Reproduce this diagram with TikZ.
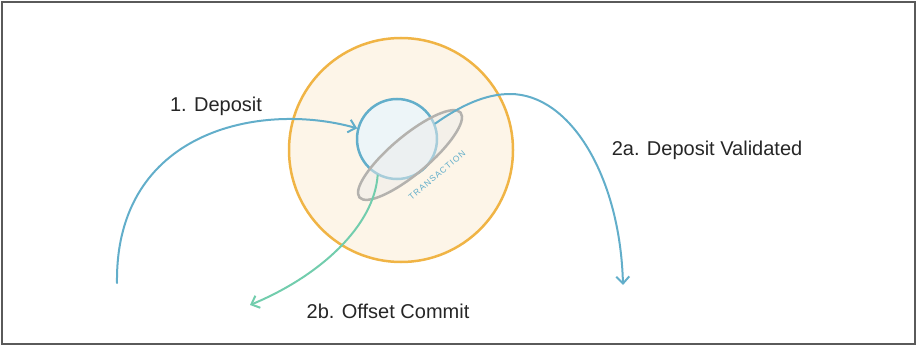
\documentclass[tikz,border=0pt]{standalone}
\usepackage{fontspec}
\setmainfont{Liberation Sans}
\definecolor{ringorange}{HTML}{F0B445}
\definecolor{ringcream}{HTML}{FDF5E8}
\definecolor{kblue}{HTML}{62AECA}
\definecolor{kteal}{HTML}{72CDAD}
\definecolor{txgray}{HTML}{B4B2AE}
\definecolor{framegray}{HTML}{5A5A5A}
\usetikzlibrary{arrows.meta, shapes, positioning, calc}

\begin{document}
\begin{tikzpicture}[x=1pt, y=1pt, every node/.style={font=\fontsize{20}{22}\selectfont}]
        \tikzset{
          realm/.style={circle, draw=ringorange, fill=ringcream,
                        line width=2.5pt, minimum size=224pt, inner sep=0pt},
          store/.style={circle, draw=kblue, fill=white!75!txgray!40!kblue!18,
                        line width=2.5pt, minimum size=80pt, inner sep=0pt},
          txn/.style={ellipse, draw=txgray, fill=txgray!25, fill opacity=0.5,
                      draw opacity=1, line width=2.5pt,
                      minimum width=132pt, minimum height=38pt, inner sep=0pt},
          flow/.style={line width=2pt, line cap=round,
                       -{Straight Barb[length=7pt, width=13pt, line width=2pt]}},
          lbl/.style={text=black!85}
        }
        \useasboundingbox (0,0) rectangle (917,346);
        \draw[framegray, line width=2pt] (2,2) rectangle (915,344);

        \node[realm] (realm) at (401,196) {};
        \node[store] (store) at (397,207) {};
        \node[txn, rotate=40] (txn) at (410,191) {};
        \node[rotate=40, text=kblue, inner sep=0pt,
              font=\fontsize{8.5}{9}\selectfont\addfontfeatures{LetterSpace=12}]
              (txnlbl) at (437,171) {TRANSACTION};

        \coordinate (src)  at (117,63);
        \coordinate (peak) at (510,252);
        \coordinate (vdst) at (623,61);
        \coordinate (cdst) at (250,41);

        % 1. deposit
        \draw[flow, kblue] (src) .. controls (115,215) and (260,245) .. (store.165);
        % 2a. validated
        \draw[kblue, line width=2pt, line cap=round]
              (store.22) .. controls (460,240) and (485,252) .. (peak);
        \draw[flow, kblue] (peak) .. controls (570,252) and (620,170) .. (vdst);
        % 2b. offset commit
        \draw[flow, kteal] (store.-118) .. controls (374,120) and (320,70) .. (cdst);

        \node[lbl] (deplbl) at (216,240) {1. Deposit};
        \node[lbl] (vallbl) at (707,196) {2a. Deposit Validated};
        \node[lbl] (comlbl) at (388,35) {2b. Offset Commit};
      \end{tikzpicture}
\end{document}
